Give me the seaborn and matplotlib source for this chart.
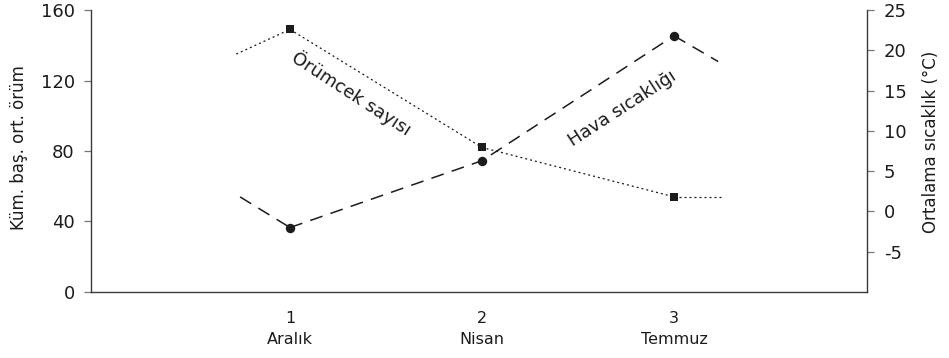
import matplotlib
matplotlib.use("Agg")
import matplotlib.pyplot as plt
import seaborn as sns
import pandas as pd

# Sampling points (1 = December, 2 = April, 3 = July)
positions = [1, 2, 3]
months = ["Aralık", "Nisan", "Temmuz"]

# Mean webs per cluster
spider_counts = [149, 82, 54]
# Mean air temperature (°C)
temperatures = [-2.0, 6.3, 21.8]

# Short lead-in / lead-out strokes on either side of each curve
spider_ends_x = [0.72, 3.25]
spider_ends_y = [135, 54]
temp_ends_x = [0.74, 3.23]
temp_ends_y = [1.8, 18.6]

sns.set_style("white")
plt.rcParams["font.family"] = ["DejaVu Sans"]
ink = "#1c1c1c"
spine_col = "#3a3a3a"

fig = plt.figure(figsize=(9.49, 3.58), dpi=100)
ax = fig.add_axes([0.0962, 0.1844, 0.8174, 0.7876])
ax2 = ax.twinx()

spider_df = pd.DataFrame({"x": positions, "y": spider_counts})
temp_df = pd.DataFrame({"x": positions, "y": temperatures})

dotted = (0, (1.6, 2.4))
dashed = (0, (8.5, 5.5))

# Spider counts: dotted line with square markers (left axis)
sns.lineplot(data=spider_df, x="x", y="y", ax=ax, color=ink, lw=0.9,
             linestyle=dotted, marker="s", markersize=5.6, markeredgewidth=0,
             estimator=None, sort=False)
sns.lineplot(x=[spider_ends_x[0], positions[0]], y=[spider_ends_y[0], spider_counts[0]],
             ax=ax, color=ink, lw=0.9, linestyle=dotted, estimator=None, sort=False)
sns.lineplot(x=[positions[-1], spider_ends_x[1]], y=[spider_counts[-1], spider_ends_y[1]],
             ax=ax, color=ink, lw=0.9, linestyle=dotted, estimator=None, sort=False)

# Temperature: dashed line with round markers (right axis)
sns.lineplot(data=temp_df, x="x", y="y", ax=ax2, color=ink, lw=1.1,
             linestyle=dashed, marker="o", markersize=6.8, markeredgewidth=0,
             estimator=None, sort=False)
sns.lineplot(x=[temp_ends_x[0], positions[0]], y=[temp_ends_y[0], temperatures[0]],
             ax=ax2, color=ink, lw=1.1, linestyle=dashed, estimator=None, sort=False)
sns.lineplot(x=[positions[-1], temp_ends_x[1]], y=[temperatures[-1], temp_ends_y[1]],
             ax=ax2, color=ink, lw=1.1, linestyle=dashed, estimator=None, sort=False)

ax.set_xlim(-0.035, 4.005)
ax.set_ylim(0, 160)
ax2.set_ylim(-10, 25)

ax.set_xticks(positions)
ax.set_xticklabels([f"{p}\n{m}" for p, m in zip(positions, months)],
                   fontsize=11.5, color=ink, linespacing=1.5)
ax.set_yticks([0, 40, 80, 120, 160])
ax.set_yticklabels(["0", "40", "80", "120", "160"], fontsize=13, color=ink)
ax2.set_yticks([-5, 0, 5, 10, 15, 20, 25])
ax2.set_yticklabels(["-5", "0", "5", "10", "15", "20", "25"], fontsize=13, color=ink)

ax.set_xlabel("")
ax.set_ylabel("Küm. baş. ort. örüm", fontsize=12, color=ink)
ax2.set_ylabel("Ortalama sıcaklık (°C)", fontsize=12, color=ink)
ax2.set_xlabel("")
ax.yaxis.set_label_coords(-0.0816, 0.512)
ax2.yaxis.set_label_coords(1.0707, 0.534)

for a in (ax, ax2):
    a.spines["top"].set_visible(False)
    for s in ("left", "right", "bottom"):
        a.spines[s].set_color(spine_col)
        a.spines[s].set_linewidth(1.0)
    a.tick_params(axis="both", direction="out", length=5, width=0.9,
                  color="#777777", pad=7)
ax.spines["right"].set_visible(False)
ax2.spines["left"].set_visible(False)
ax2.spines["bottom"].set_visible(False)
ax.tick_params(axis="x", length=6, pad=7.5)

# Curve labels written along each line
ax.text(1.32, 113, "Örümcek sayısı", rotation=-33, fontsize=13, color=ink,
        ha="center", va="center", rotation_mode="anchor")
ax2.text(2.73, 12.8, "Hava sıcaklığı", rotation=33, fontsize=13, color=ink,
         ha="center", va="center", rotation_mode="anchor")

fig.savefig("out.png", dpi=100)
